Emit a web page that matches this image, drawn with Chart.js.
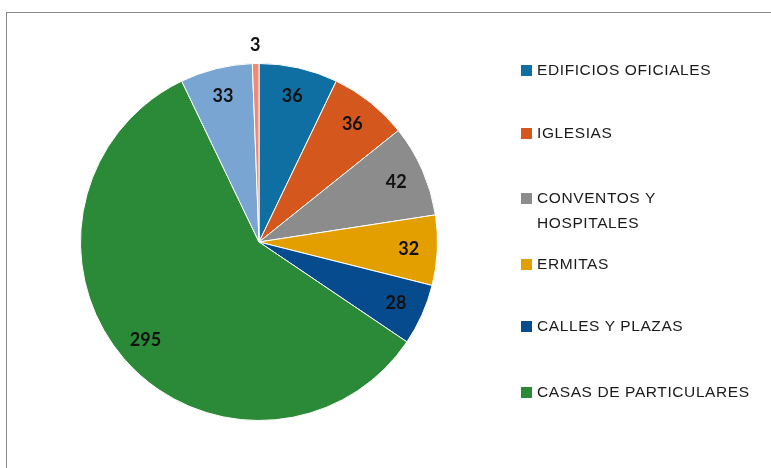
<!DOCTYPE html>
<html>
<head>
<meta charset="utf-8">
<script src="https://cdn.jsdelivr.net/npm/chart.js@4"></script>
<style>
  html, body { margin: 0; padding: 0; background: #fff; }
  #wrap { position: relative; width: 771px; height: 468px; overflow: hidden; }
  #frame { position: absolute; left: 6px; top: 12px; width: 800px; height: 500px; border: 1px solid #8a8a8a; }
  #myChart { position: absolute; left: 0; top: 0; }
  #legend { position: absolute; left: 521px; top: 0; font-family: "Liberation Sans", sans-serif; font-size: 15.5px; letter-spacing: 0.6px; color: #1a1a1a; }
  .item { position: absolute; left: 0; white-space: nowrap; }
  .box { position: absolute; left: 0; top: 5px; width: 11px; height: 11px; }
  .txt { position: absolute; left: 16px; top: 0; line-height: 25px; margin-top: -3px; }
</style>
</head>
<body>
<div id="wrap">
  <div id="frame"></div>
  <canvas id="myChart" width="771" height="468"></canvas>
  <div id="legend"></div>
</div>
<script>
const categories = ['EDIFICIOS OFICIALES', 'IGLESIAS', 'CONVENTOS Y HOSPITALES', 'ERMITAS', 'CALLES Y PLAZAS', 'CASAS DE PARTICULARES', 'OTROS', 'SIN DATOS'];
const values = [36, 36, 42, 32, 28, 295, 33, 3];
const colors = ['#0f6ea2', '#d4581e', '#8c8c8c', '#e39e00', '#074b8f', '#2b8a38', '#79a5d3', '#f08a76'];
// legend rows shown in the picture (only the first six), text lines per row
const legendRows = [['EDIFICIOS OFICIALES'], ['IGLESIAS'], ['CONVENTOS Y', 'HOSPITALES'], ['ERMITAS'], ['CALLES Y PLAZAS'], ['CASAS DE PARTICULARES']];
const legendTops = [60, 123, 188, 254, 316, 382];

const legend = document.getElementById('legend');
legendRows.forEach((lines, i) => {
  const d = document.createElement('div');
  d.className = 'item';
  d.style.top = legendTops[i] + 'px';
  d.innerHTML = '<div class="box" style="background:' + colors[i] + '"></div><div class="txt">' + lines.join('<br>') + '</div>';
  legend.appendChild(d);
});

const sliceLabels = {
  id: 'sliceLabels',
  afterDatasetsDraw(chart) {
    const c = chart.ctx;
    const meta = chart.getDatasetMeta(0);
    c.save();
    c.font = 'bold 18px Lato, "Liberation Sans", sans-serif';
    c.fillStyle = '#111';
    c.textAlign = 'center';
    c.textBaseline = 'middle';
    meta.data.forEach((arc, i) => {
      const mid = (arc.startAngle + arc.endAngle) / 2;
      const r = values[i] < 10 ? arc.outerRadius + 18 : arc.outerRadius * 0.84;
      c.fillText(values[i], arc.x + Math.cos(mid) * r, arc.y + Math.sin(mid) * r);
    });
    c.restore();
  }
};

const ctx = document.getElementById('myChart').getContext('2d');
new Chart(ctx, {
  type: 'pie',
  data: {
    labels: categories,
    datasets: [{
      data: values,
      backgroundColor: colors,
      borderColor: '#ffffff',
      borderWidth: 1
    }]
  },
  options: {
    responsive: false,
    animation: false,
    layout: { padding: { left: 80, top: 63, right: 333, bottom: 47 } },
    plugins: {
      legend: { display: false },
      tooltip: { enabled: false }
    }
  },
  plugins: [sliceLabels]
});
</script>
</body>
</html>
